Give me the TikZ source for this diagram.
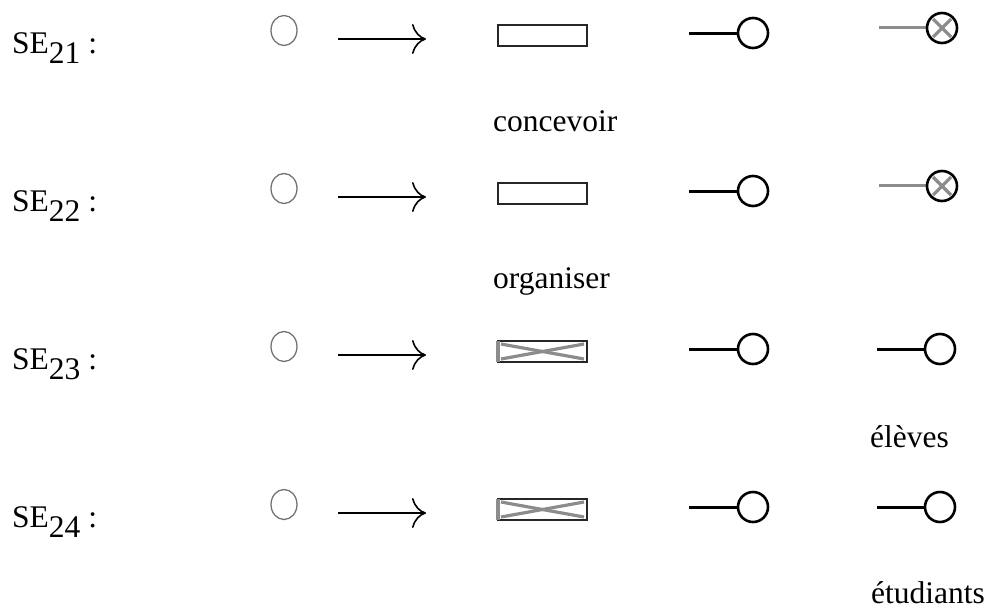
\documentclass[tikz,border=0pt]{standalone}
\usepackage{fontspec}
\setmainfont{Liberation Serif}
\usetikzlibrary{arrows.meta}
\usetikzlibrary{calc}

\begin{document}
\begin{tikzpicture}[x = 1pt, y = 1pt,
	txt/.style = {font = \fontsize{31.5}{36}\selectfont, inner sep = 0pt, anchor = base west},
	ring/.style = {draw = black!55, line width = 1.3pt},
	box/.style = {draw = black!85, line width = 2.2pt},
	stem/.style = {line width = 3pt},
	greystem/.style = {line width = 3pt, draw = black!45},
	bowtie/.style = {line width = 3.2pt, draw = black!45}]
	\useasboundingbox (0, -608) rectangle (987, 0);

	% one row per sub-element
	\foreach \r/\yy in {1/-35, 2/-193, 3/-351, 4/-509}{
		\node[txt] (se\r) at (12, \yy-18) {SE\raisebox{-10pt}{2\r} :};
		\draw[ring] (284, \yy+4.5) ellipse [x radius = 13, y radius = 15];
		\coordinate (a\r) at (338, \yy-4);
		\coordinate (b\r) at (426, \yy-4);
		\draw[line width = 1.6pt, -{Computer Modern Rightarrow[length = 14pt, width = 30pt]}] (a\r) -- (b\r);
		\coordinate (p\r) at (689, \yy+2);
		\coordinate (q\r) at (753, \yy+2);
		\draw[stem] (p\r) -- ($(q\r)-(15, 0)$);
		\draw[line width = 2.6pt] (q\r) circle [radius = 15];
	}

	% plain boxes
	\foreach \r/\yy in {1/-35, 2/-193}{
		\draw[box] (498, \yy+10) rectangle (587, \yy-11);
		\coordinate (m\r) at (942, \yy+7);
		\draw[greystem] (879, \yy+8) -- ($(m\r)-(16, -1)$);
		\draw[bowtie] ($(m\r)+(-9, -9)$) -- ($(m\r)+(9, 9)$);
		\draw[bowtie] ($(m\r)+(-9, 9)$) -- ($(m\r)+(9, -9)$);
		\draw[line width = 2.6pt] (m\r) circle [radius = 15];
	}

	% crossed boxes
	\foreach \r/\yy in {3/-351, 4/-509}{
		\draw[box] (498, \yy+10) rectangle (587, \yy-11);
		\draw[bowtie] (498, \yy+10) -- (498, \yy-11);
		\draw[bowtie] (501, \yy+7) -- (584, \yy-8);
		\draw[bowtie] (501, \yy-8) -- (584, \yy+7);
		\coordinate (m\r) at (940, \yy+2);
		\draw[stem] (877, \yy+2) -- ($(m\r)-(15, 0)$);
		\draw[line width = 2.6pt] (m\r) circle [radius = 15];
	}

	\node[txt] (concevoir) at (493, -131) {concevoir};
	\node[txt] (organiser) at (493, -288) {organiser};
	\node[txt] (eleves) at (870, -447) {élèves};
	\node[txt] (etudiants) at (871, -603) {étudiants};
\end{tikzpicture}
\end{document}
